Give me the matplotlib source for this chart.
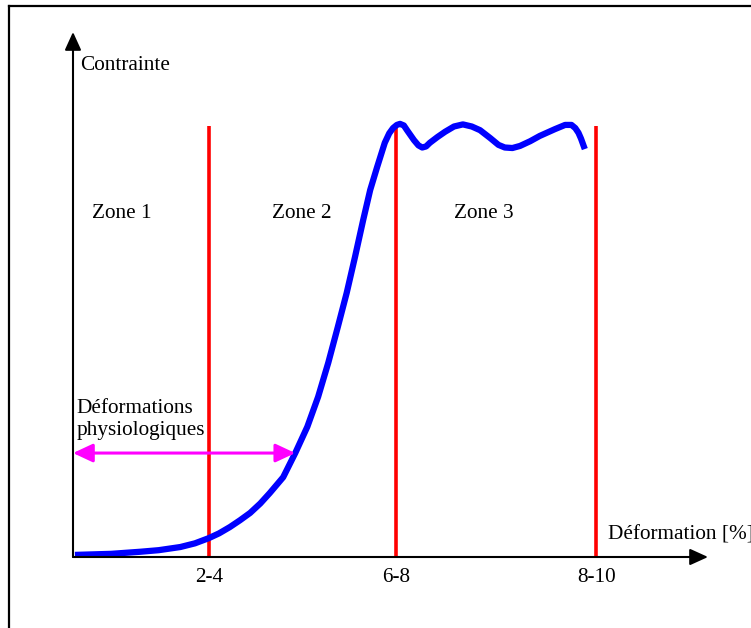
import matplotlib
matplotlib.use("Agg")
import matplotlib.pyplot as plt
from matplotlib.lines import Line2D

plt.rcParams["font.family"] = ["Liberation Serif", "DejaVu Serif"]

# strain / stress curve (arbitrary units, axes 0..10)
strain = [0.03, 0.6, 1.06, 1.35, 1.69, 1.92, 2.14, 2.30, 2.47, 2.63, 2.79,
          2.95, 3.10, 3.31, 3.50, 3.69, 3.86, 4.02, 4.17, 4.31, 4.44, 4.57,
          4.68, 4.79, 4.91, 4.98, 5.04, 5.10, 5.15, 5.21, 5.26, 5.37, 5.44,
          5.50, 5.56, 5.62, 5.74, 5.86, 6.00, 6.14, 6.28, 6.41, 6.57, 6.70,
          6.80, 6.92, 7.04, 7.20, 7.35, 7.59, 7.75, 7.85, 7.91, 7.96, 8.00,
          8.06]
stress = [0.04, 0.06, 0.10, 0.13, 0.19, 0.26, 0.36, 0.45, 0.57, 0.70, 0.84,
          1.02, 1.22, 1.52, 1.98, 2.48, 3.05, 3.70, 4.38, 5.03, 5.71, 6.42,
          6.99, 7.43, 7.89, 8.07, 8.17, 8.23, 8.25, 8.22, 8.13, 7.94, 7.84,
          7.80, 7.82, 7.89, 8.00, 8.10, 8.20, 8.24, 8.20, 8.13, 7.98, 7.85,
          7.80, 7.79, 7.83, 7.92, 8.02, 8.15, 8.23, 8.23, 8.17, 8.08, 7.97,
          7.77]

zone_limits = [2.14, 5.09, 8.24]
tick_labels = ["2-4", "6-8", "8-10"]
zone_names = ["Zone 1", "Zone 2", "Zone 3"]
zone_x = [0.77, 3.61, 6.47]
physio_range = [0.0, 3.50]

fig = plt.figure(figsize=(7.51, 6.28), dpi=100)
W, H = 751, 628

# frame (only top and left edges are visible in the original)
fig.add_artist(Line2D([9 / W, 9 / W], [0, 1 - 6 / H], color="black", lw=1.6))
fig.add_artist(Line2D([9 / W, 1], [1 - 6 / H, 1 - 6 / H], color="black", lw=1.6))

ax = fig.add_axes([73 / W, (H - 557) / H, (708 - 73) / W, (557 - 32) / H])
ax.set_xlim(0, 10)
ax.set_ylim(0, 10)
ax.axis("off")

# axes with arrow heads
arrow = dict(arrowstyle="-|>,head_length=0.55,head_width=0.25", color="black",
             lw=1.5, mutation_scale=20, shrinkA=0, shrinkB=0)
ax.annotate("", xy=(1, 0), xytext=(0, 0), xycoords="axes fraction", arrowprops=arrow)
ax.annotate("", xy=(0, 1), xytext=(0, 0), xycoords="axes fraction", arrowprops=arrow)

# zone limits
ax.vlines(zone_limits, 0, 8.21, color="red", lw=2.6)

# stress-strain curve
ax.plot(strain, stress, color="blue", lw=4.5, solid_capstyle="butt",
        solid_joinstyle="round", clip_on=False)

# physiological range arrow
ax.annotate("", xy=(physio_range[1], 1.98), xytext=(physio_range[0], 1.98),
            arrowprops=dict(arrowstyle="<|-|>,head_length=0.6,head_width=0.28",
                            color="#FF00FF", lw=2.2, mutation_scale=20,
                            shrinkA=0, shrinkB=0))

fs = 15.3
for x, lab in zip(zone_limits, tick_labels):
    ax.text(x, -0.40, lab, ha="center", va="center", fontsize=fs, clip_on=False)
for x, name in zip(zone_x, zone_names):
    ax.text(x, 6.55, name, ha="center", va="center", fontsize=fs)

ax.text(0.12, 9.37, "Contrainte", ha="left", va="center", fontsize=fs)
ax.text(0.05, 2.62, "Déformations\nphysiologiques", ha="left", va="center",
        fontsize=fs, linespacing=1.22)
ax.text(8.43, 0.42, "Déformation [%]", ha="left", va="center", fontsize=fs,
        clip_on=False)

fig.savefig("out.png", dpi=100)
